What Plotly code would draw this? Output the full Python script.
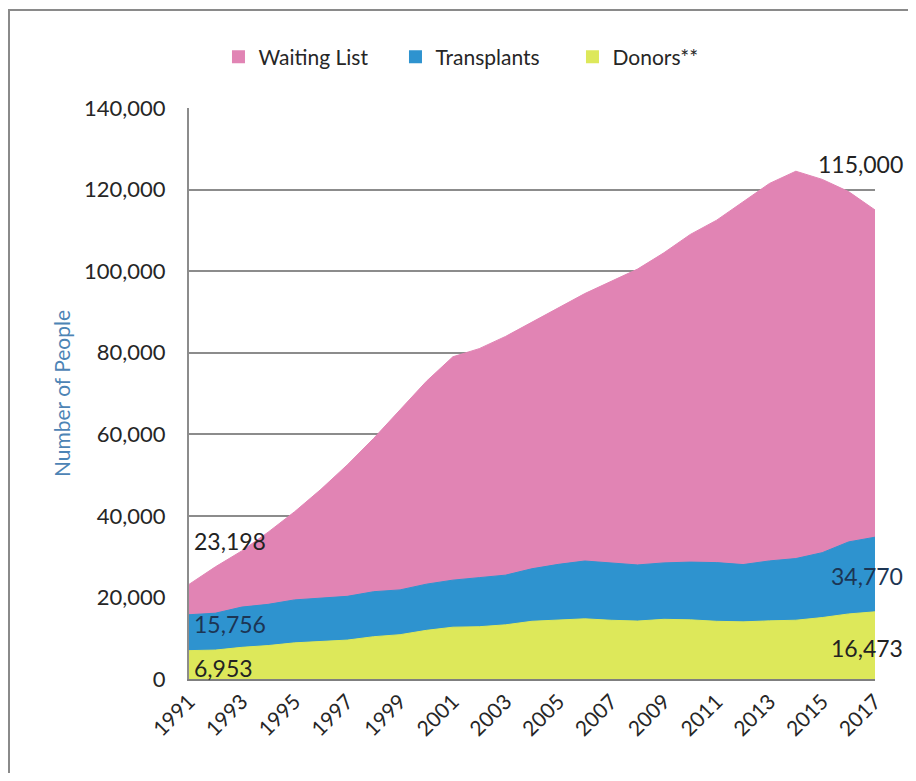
import plotly.graph_objects as go

# datos
YEARS = list(range(1991, 2018))
WAITING = [23198, 27500, 31400, 36000, 41000, 46500, 52500, 59000, 66000,
           73000, 79000, 81000, 84000, 87500, 91000, 94500, 97500, 100500,
           104500, 109000, 112500, 117000, 121500, 124500, 122500, 119500,
           115000]
TRANSPLANTS = [15756, 16133, 17631, 18298, 19393, 19741, 20269, 21405, 21849,
               23250, 24239, 24851, 25468, 27034, 28108, 28932, 28358, 27963,
               28465, 28663, 28537, 28053, 28954, 29532, 30973, 33611, 34770]
DONORS = [6953, 7092, 7766, 8201, 8863, 9216, 9541, 10371, 10866, 11934,
          12702, 12821, 13285, 14154, 14497, 14756, 14400, 14208, 14632,
          14506, 14145, 14013, 14257, 14412, 15064, 15949, 16473]
X_TICKS = list(range(1991, 2018, 2))
Y_TICKS = list(range(0, 140001, 20000))

SERIES = [("Waiting List", WAITING, "#E184B4"),
          ("Transplants", TRANSPLANTS, "#2E93CF"),
          ("Donors**", DONORS, "#DDE85A")]

FONT = "Lato, 'Open Sans', sans-serif"
# la pagina deja 8px de margen en el body: la figura se reduce en la misma medida
W, H = 908, 765
ML, MR, MT, MB = 181, 41, 100, 94
PW, PH = W - ML - MR, H - MT - MB

fig = go.Figure()

# areas superpuestas (no apiladas)
for name, vals, col in SERIES:
    fig.add_trace(go.Scatter(
        x=YEARS, y=vals, mode="lines", fill="tozeroy",
        fillcolor=col, line=dict(color=col, width=1),
        name=name, showlegend=False,
    ))

# entradas de leyenda con cuadrado
for name, vals, col in SERIES:
    fig.add_trace(go.Scatter(
        x=[None], y=[None], mode="markers", name=name,
        marker=dict(symbol="square", size=13, color=col),
    ))

def px_x(p):
    return (p - ML) / PW

def px_y(p):
    return 1 - (p - MT) / PH

# etiquetas de valores: (x, y, anchor, xshift, yshift, color)
labels = [
    (YEARS[0], WAITING[0], "left", 3, 43, "#222222"),
    (YEARS[0], TRANSPLANTS[0], "left", 3, -9, "#1c3554"),
    (YEARS[0], DONORS[0], "left", 3, -17, "#222222"),
    (YEARS[-1], WAITING[-1], "right", 30, 46, "#222222"),
    (YEARS[-1], TRANSPLANTS[-1], "right", 30, -39, "#1c3554"),
    (YEARS[-1], DONORS[-1], "right", 30, -36, "#222222"),
]
for x, y, anchor, xs, ys, col in labels:
    fig.add_annotation(
        x=x, y=y, text=f"{y:,}", showarrow=False, xanchor=anchor,
        yanchor="middle", xshift=xs, yshift=ys,
        font=dict(family=FONT, size=23, color=col),
    )

# marco exterior del grafico
fig.add_shape(type="rect", xref="paper", yref="paper",
              x0=px_x(1), x1=px_x(W + 20), y0=px_y(H + 20), y1=px_y(2),
              line=dict(color="#8a8a8a", width=2), fillcolor="rgba(0,0,0,0)")

fig.update_xaxes(
    range=[YEARS[0], YEARS[-1]], tickvals=X_TICKS,
    ticktext=[str(t) for t in X_TICKS], tickangle=-45,
    showgrid=False, zeroline=False,
    showline=True, linecolor="#7f7f7f", linewidth=2,
    ticks="",
    tickfont=dict(family=FONT, size=21, color="#262626"),
)
fig.update_yaxes(
    range=[0, 140000], tickvals=Y_TICKS,
    ticktext=[f"{t:,}" for t in Y_TICKS],
    showgrid=True, gridcolor="#8c8c8c", gridwidth=2,
    zeroline=False, showline=True, linecolor="#8c8c8c", linewidth=2,
    ticks="outside", ticklen=17, tickcolor="rgba(0,0,0,0)",
    tickfont=dict(family=FONT, size=22, color="#262626"),
    title=dict(text="Number of People", standoff=8,
               font=dict(family=FONT, size=21, color="#4d84b5")),
)
fig.update_layout(
    width=W, height=H,
    margin=dict(l=ML, r=MR, t=MT, b=MB, autoexpand=False),
    paper_bgcolor="white", plot_bgcolor="white",
    legend=dict(orientation="h", x=0.43, xanchor="center",
                y=px_y(49), yanchor="middle",
                font=dict(family=FONT, size=21, color="#262626"),
                itemwidth=30, entrywidth=132, traceorder="normal"),
)

fig.write_html("out.html")
